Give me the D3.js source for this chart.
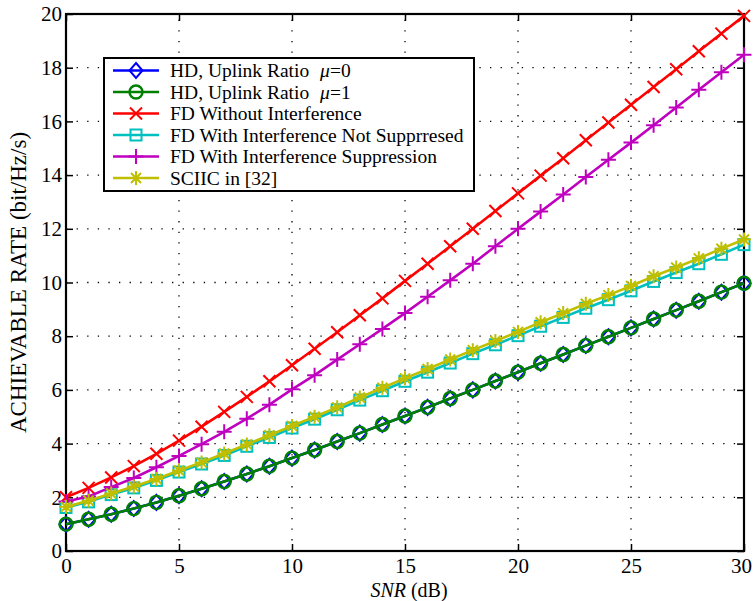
<!DOCTYPE html>
<html>
<head>
<meta charset="utf-8">
<script src="https://cdn.jsdelivr.net/npm/d3@7/dist/d3.min.js"></script>
<style>
  body { margin: 0; background: #fff; }
  svg { display: block; font-family: "Liberation Serif", "Times New Roman", serif; }
</style>
</head>
<body>
<svg id="chart" width="753" height="601"></svg>
<script>
// SNR in dB, one point per dB
var snr = d3.range(0, 31);

var hdMu0 = [1.00, 1.18, 1.37, 1.58, 1.81, 2.06, 2.32, 2.59, 2.87, 3.16, 3.46, 3.76, 4.08, 4.39, 4.71, 5.03,
             5.35, 5.68, 6.00, 6.33, 6.66, 6.99, 7.32, 7.65, 7.98, 8.31, 8.64, 8.97, 9.30, 9.64, 9.97];
var hdMu1 = [1.00, 1.18, 1.37, 1.58, 1.81, 2.06, 2.32, 2.59, 2.87, 3.16, 3.46, 3.76, 4.08, 4.39, 4.71, 5.03,
             5.35, 5.68, 6.00, 6.33, 6.66, 6.99, 7.32, 7.65, 7.98, 8.31, 8.64, 8.97, 9.30, 9.64, 9.97];
var fdNoInterf = [2.00, 2.35, 2.74, 3.16, 3.62, 4.11, 4.63, 5.18, 5.74, 6.32, 6.92, 7.53, 8.15, 8.78, 9.41, 10.06,
                  10.70, 11.35, 12.00, 12.66, 13.32, 13.98, 14.63, 15.30, 15.96, 16.62, 17.28, 17.94, 18.61, 19.27, 19.93];
var fdNotSupp = [1.62, 1.83, 2.10, 2.35, 2.63, 2.94, 3.24, 3.56, 3.90, 4.23, 4.58, 4.91, 5.26, 5.62, 5.97, 6.32,
                 6.66, 7.00, 7.35, 7.68, 8.02, 8.37, 8.70, 9.04, 9.36, 9.69, 10.04, 10.37, 10.70, 11.05, 11.41];
var fdSupp = [1.84, 2.03, 2.38, 2.72, 3.12, 3.54, 3.98, 4.44, 4.93, 5.45, 6.02, 6.55, 7.13, 7.70, 8.27, 8.86,
              9.47, 10.08, 10.70, 11.35, 12.00, 12.64, 13.28, 13.93, 14.57, 15.21, 15.86, 16.52, 17.18, 17.83, 18.48];
var sciic = [1.65, 1.87, 2.14, 2.40, 2.68, 3.00, 3.30, 3.63, 3.97, 4.31, 4.66, 5.00, 5.35, 5.72, 6.08, 6.43,
             6.78, 7.13, 7.48, 7.82, 8.16, 8.52, 8.86, 9.21, 9.53, 9.87, 10.23, 10.56, 10.90, 11.26, 11.60];

var xTicks = [0, 5, 10, 15, 20, 25, 30];
var yTicks = [0, 2, 4, 6, 8, 10, 12, 14, 16, 18, 20];

var series = [
  { label: "HD, Uplink Ratio ", mu: "0", values: hdMu0, color: "#0000ff", marker: "diamond" },
  { label: "HD, Uplink Ratio ", mu: "1", values: hdMu1, color: "#008000", marker: "circle" },
  { label: "FD Without Interference", values: fdNoInterf, color: "#ff0000", marker: "x" },
  { label: "FD With Interference Not Supprresed", values: fdNotSupp, color: "#00bfbf", marker: "square" },
  { label: "FD With Interference Suppression", values: fdSupp, color: "#bf00bf", marker: "plus" },
  { label: "SCIIC in [32]", values: sciic, color: "#bfbf00", marker: "star" }
];

var serif = "'Liberation Serif', 'Times New Roman', serif";
var margin = { left: 66, right: 9, top: 14, bottom: 50 };
var width = 753, height = 601;
var svg = d3.select("#chart");

var x = d3.scaleLinear().domain([0, 30]).range([margin.left, width - margin.right]);
var y = d3.scaleLinear().domain([0, 20]).range([height - margin.bottom, margin.top]);

// dotted grid
var grid = svg.append("g").attr("stroke", "#000").attr("stroke-width", 1.3).attr("stroke-dasharray", "1.3,9.3");
grid.selectAll("line.v").data(xTicks.slice(1, -1)).enter().append("line")
  .attr("x1", function(d) { return x(d); }).attr("x2", function(d) { return x(d); })
  .attr("y1", y(0)).attr("y2", y(20));
grid.selectAll("line.h").data(yTicks.slice(1, -1)).enter().append("line")
  .attr("y1", function(d) { return y(d); }).attr("y2", function(d) { return y(d); })
  .attr("x1", x(0)).attr("x2", x(30));

// axes with inward ticks
function styleAxis(g) {
  g.attr("font-family", serif);
  g.select(".domain").remove();
  g.selectAll(".tick line").attr("stroke", "#000").attr("stroke-width", 1.5);
  g.selectAll(".tick text").attr("fill", "#000").attr("font-family", serif).style("font-size", "21px");
}
var xAxisG = svg.append("g").attr("transform", "translate(0," + y(0) + ")")
  .call(d3.axisBottom(x).tickValues(xTicks).tickSizeInner(-7).tickSizeOuter(0).tickPadding(7))
  .call(styleAxis);
// keep the last label inside the page
xAxisG.selectAll(".tick text").filter(function(d) { return d === 30; }).attr("dx", -3);

svg.append("g").attr("transform", "translate(" + x(0) + ",0)")
  .call(d3.axisLeft(y).tickValues(yTicks).tickSizeInner(-7).tickSizeOuter(0).tickPadding(4))
  .call(styleAxis);
svg.append("g").attr("transform", "translate(0," + y(20) + ")")
  .call(d3.axisTop(x).tickValues(xTicks).tickSizeInner(-7).tickSizeOuter(0).tickFormat(""))
  .call(styleAxis);
svg.append("g").attr("transform", "translate(" + x(30) + ",0)")
  .call(d3.axisRight(y).tickValues(yTicks).tickSizeInner(-7).tickSizeOuter(0).tickFormat(""))
  .call(styleAxis);

svg.append("rect")
  .attr("x", x(0)).attr("y", y(20))
  .attr("width", x(30) - x(0)).attr("height", y(0) - y(20))
  .attr("fill", "none").attr("stroke", "#000").attr("stroke-width", 2.2);

// marker drawing
function drawMarker(g, type, color) {
  var s = 6.5;
  if (type === "diamond") {
    g.append("path").attr("d", "M0," + (-s - 1) + "L" + (s) + ",0L0," + (s + 1) + "L" + (-s) + ",0Z")
      .attr("fill", "none").attr("stroke", color).attr("stroke-width", 2);
  } else if (type === "circle") {
    g.append("circle").attr("r", s).attr("fill", "none").attr("stroke", color).attr("stroke-width", 2.4);
  } else if (type === "x") {
    g.append("path").attr("d", "M-6,-6L6,6M-6,6L6,-6").attr("stroke", color).attr("stroke-width", 2);
  } else if (type === "square") {
    g.append("rect").attr("x", -5.5).attr("y", -5.5).attr("width", 11).attr("height", 11)
      .attr("fill", "none").attr("stroke", color).attr("stroke-width", 2);
  } else if (type === "plus") {
    g.append("path").attr("d", "M-7.5,0L7.5,0M0,-7.5L0,7.5").attr("stroke", color).attr("stroke-width", 2);
  } else if (type === "star") {
    g.append("path").attr("d", "M-7,0L7,0M0,-7L0,7M-5,-5L5,5M-5,5L5,-5").attr("stroke", color).attr("stroke-width", 2);
  }
}

var line = d3.line()
  .x(function(d, i) { return x(snr[i]); })
  .y(function(d) { return y(d); });

series.forEach(function(s) {
  var g = svg.append("g");
  g.append("path").datum(s.values).attr("d", line)
    .attr("fill", "none").attr("stroke", s.color).attr("stroke-width", 2.6);
  s.values.forEach(function(v, i) {
    var m = g.append("g").attr("transform", "translate(" + x(snr[i]) + "," + y(v) + ")");
    drawMarker(m, s.marker, s.color);
  });
});

// axis labels
svg.append("text")
  .attr("transform", "translate(26," + ((y(0) + y(20)) / 2) + ") rotate(-90)")
  .attr("text-anchor", "middle").attr("font-family", serif).style("font-size", "23px")
  .text("ACHIEVABLE RATE (bit/Hz/s)");

var xl = svg.append("text").attr("x", (x(0) + x(30)) / 2 + 4).attr("y", 597)
  .attr("text-anchor", "middle").attr("font-family", serif).style("font-size", "20px");
xl.append("tspan").style("font-style", "italic").text("SNR");
xl.append("tspan").text(" (dB)");

// legend
var lg = svg.append("g").attr("transform", "translate(104,58)");
lg.append("rect").attr("width", 370).attr("height", 133)
  .attr("fill", "#fff").attr("stroke", "#000").attr("stroke-width", 2);
series.forEach(function(s, i) {
  var cy = 12.5 + i * 21.5;
  var row = lg.append("g").attr("transform", "translate(0," + cy + ")");
  row.append("line").attr("x1", 9).attr("x2", 55).attr("y1", 0).attr("y2", 0)
    .attr("stroke", s.color).attr("stroke-width", 2.6);
  var m = row.append("g").attr("transform", "translate(32,0)");
  drawMarker(m, s.marker, s.color);
  var t = row.append("text").attr("x", 66).attr("y", 6.5).attr("font-family", serif)
    .style("font-size", "19.5px").text(s.label);
  if (s.mu) {
    t.append("tspan").attr("dx", 6).style("font-style", "italic").text("\u03bc");
    t.append("tspan").text("=" + s.mu);
  }
});
</script>
</body>
</html>
